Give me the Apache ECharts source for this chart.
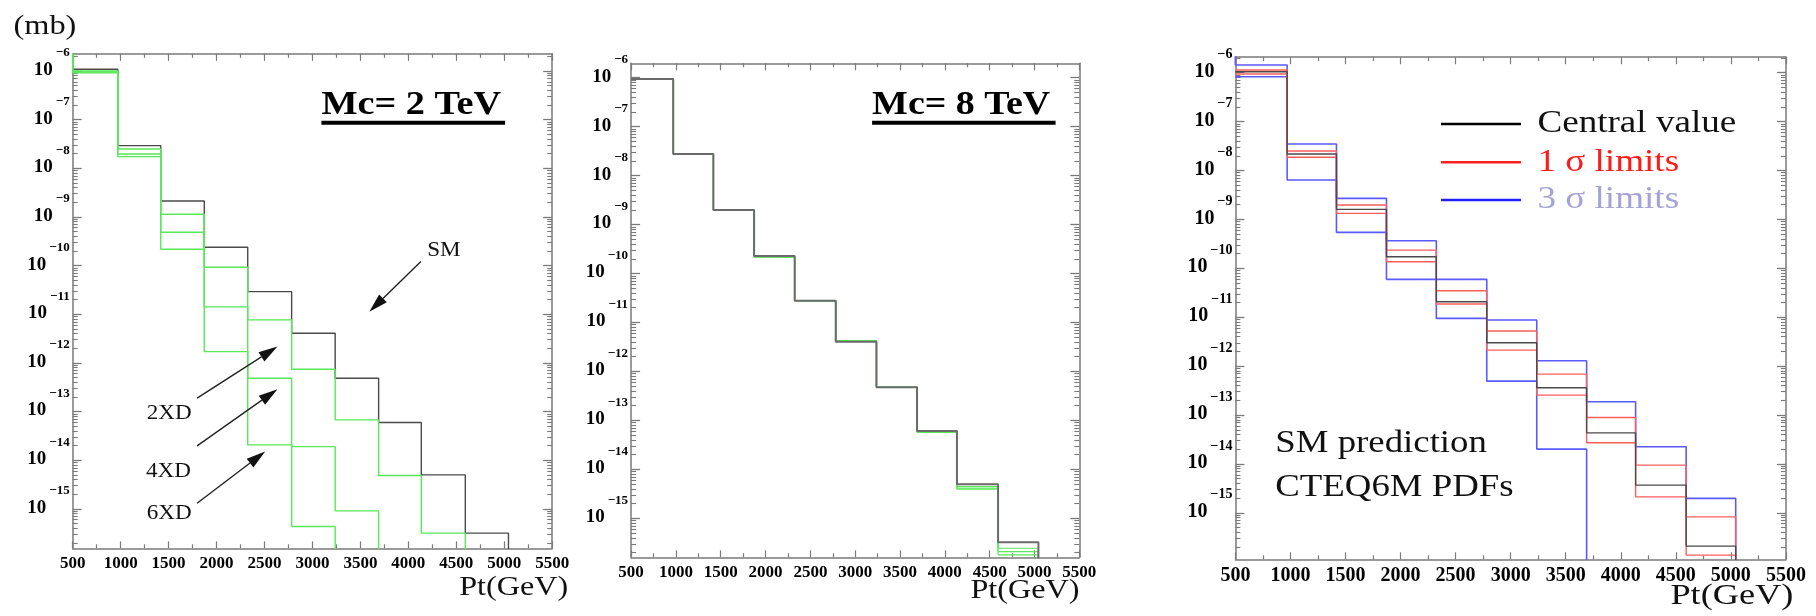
<!DOCTYPE html>
<html><head><meta charset="utf-8">
<script src="https://cdn.jsdelivr.net/npm/echarts@6/dist/echarts.min.js"></script>
<style>html,body{margin:0;padding:0;background:#fff}#c{width:1816px;height:616px}</style>
</head><body><div id="c"></div>
<script>
// ---------------- DATA ----------------
// Pt bin edges (GeV), shared by the three panels
const binEdges = [500, 970, 1418, 1872, 2325, 2783, 3237, 3690, 4135, 4594, 5044];
// cross sections given as log10(sigma / mb); null = below the plotted range
// Panel 1 : Mc = 2 TeV
const p1SM  = [-5.965, -7.535, -8.671, -9.622, -10.535, -11.389, -12.314, -13.226, -14.301, -15.499];
const p1XD2 = [-6.000, -7.603, -8.944, -10.033, -11.116, -12.129, -13.171, -14.315, -15.499, null];
const p1XD4 = [-6.020, -7.705, -9.314, -10.849, -12.314, -13.720, -15.040, null, null, null];
const p1XD6 = [-6.040, -7.761, -9.663, -11.767, -13.684, -15.363, null, null, null, null];
// Panel 2 : Mc = 8 TeV
const p2SM  = [-6.027, -7.558, -8.702, -9.642, -10.555, -11.392, -12.323, -13.216, -14.305, -15.489];
const p2XD2 = [-6.027, -7.558, -8.702, -9.660, -10.555, -11.378, -12.323, -13.240, -14.354, -15.612];
const p2XD4 = [-6.027, -7.558, -8.702, -9.660, -10.555, -11.378, -12.323, -13.240, -14.386, -15.680];
const p2XD6 = [-6.027, -7.558, -8.702, -9.660, -10.555, -11.378, -12.323, -13.240, -14.407, -15.748];
// Panel 3 : SM prediction, CTEQ6M PDFs
const p3Central = [-5.980, -7.662, -8.794, -9.764, -10.684, -11.523, -12.443, -13.364, -14.433, -15.681];
const p3Sig1Up  = [-5.945, -7.600, -8.706, -9.627, -10.459, -11.283, -12.163, -13.049, -14.024, -15.082];
const p3Sig1Dn  = [-6.027, -7.730, -8.876, -9.866, -10.731, -11.672, -12.592, -13.568, -14.673, -15.865];
const p3Sig3Up  = [-5.843, -7.458, -8.569, -9.436, -10.226, -11.058, -11.891, -12.729, -13.650, -14.705];
const p3Sig3Dn  = [-6.082, -8.195, -9.264, -10.226, -11.024, -12.306, -13.697, null, null, null];
// axis ticks
const xTickLabels = [500, 1000, 1500, 2000, 2500, 3000, 3500, 4000, 4500, 5000, 5500];
const yDecades = [-15, -14, -13, -12, -11, -10, -9, -8, -7, -6];
// panel 1 annotations (data coordinates: Pt, log10 sigma)
const annotArrows = [
  {from: [4131, -9.918],  to: [3593, -10.946]},
  {from: [1797, -12.725], to: [2635, -11.665]},
  {from: [1797, -13.705], to: [2635, -12.540]},
  {from: [1797, -14.883], to: [2507, -13.822]}
];
const annotTexts = [
  {text: 'SM',  at: [4371, -9.68]},
  {text: '2XD', at: [1507, -13.033]},
  {text: '4XD', at: [1498, -14.233]},
  {text: '6XD', at: [1507, -15.088]}
];

// ---------------- LAYOUT ----------------
const SERIF = '"Liberation Serif","Times New Roman",serif';
const GRAY = '#7a7a7a';
const BLACK = '#4a4a4a', GREEN = '#58e858', RED = '#ff5c5c', BLUE = '#5a5aff';
const panels = [
  {left: 72.7,   top: 53.8, width: 479.5, height: 494.5, y: [-15.81, -5.647], xf: 17, bf: 19, sf: 13},
  {left: 631.1,  top: 63.3, width: 448.2, height: 494.0, y: [-15.797, -5.706], xf: 17, bf: 19, sf: 13},
  {left: 1235.4, top: 57.2, width: 550.5, height: 502.1, y: [-15.95, -5.683], xf: 20, bf: 20, sf: 14}
];

function minorPos(r) {
  const out = [];
  for (let n = -17; n <= -5; n++) for (let k = 2; k <= 9; k++) {
    const v = n + Math.log10(k);
    if (v > r[0] && v < r[1]) out.push(v);
  }
  return out;
}

const grid = [], xAxis = [], yAxis = [];
panels.forEach((p, gi) => {
  grid.push({left: p.left, top: p.top, width: p.width, height: p.height, show: false, containLabel: false});
  const xBase = {
    gridIndex: gi, type: 'value', min: 500, max: 5500, interval: 500,
    axisLine: {show: true, onZero: false, lineStyle: {color: GRAY, width: 1.5}},
    axisTick: {show: true, inside: true, length: 7, lineStyle: {color: GRAY, width: 1.2}},
    minorTick: {show: true, splitNumber: 2, length: 4, lineStyle: {color: GRAY, width: 1.2}},
    splitLine: {show: false}, minorSplitLine: {show: false}
  };
  xAxis.push(Object.assign({}, xBase, {position: 'bottom',
    axisLabel: {show: true, fontFamily: SERIF, fontWeight: 'bold', fontSize: p.xf, color: '#000', margin: 7,
      formatter: v => (xTickLabels.indexOf(v) >= 0 ? String(v) : '')}}));
  xAxis.push(Object.assign({}, xBase, {position: 'top', axisLabel: {show: false}}));
  const minors = minorPos(p.y);
  const yBase = {gridIndex: gi, type: 'value', min: p.y[0], max: p.y[1], splitLine: {show: false}};
  const lab = {
    show: true, customValues: yDecades, margin: 3, padding: [0, 0, 18, 0],
    formatter: v => '{b|10}{s|\u2212' + Math.round(-v) + '}',
    rich: {
      b: {fontFamily: SERIF, fontWeight: 'bold', fontSize: p.bf, color: '#000', height: 18, lineHeight: 34, verticalAlign: 'bottom'},
      s: {fontFamily: SERIF, fontWeight: 'bold', fontSize: p.sf, color: '#000', height: 16, lineHeight: 34, verticalAlign: 'top', padding: [0, 0, 0, 3]}
    }
  };
  ['left', 'right'].forEach(pos => {
    yAxis.push(Object.assign({}, yBase, {position: pos,
      axisLine: {show: true, onZero: false, lineStyle: {color: GRAY, width: 1.5}},
      axisTick: {show: true, inside: true, length: 9, customValues: yDecades, lineStyle: {color: GRAY, width: 1.3}},
      axisLabel: pos === 'left' ? lab : {show: false}}));
    yAxis.push(Object.assign({}, yBase, {position: pos,
      axisLine: {show: false, onZero: false},
      axisTick: {show: true, inside: true, length: 5, customValues: minors, lineStyle: {color: GRAY, width: 1.1}},
      axisLabel: {show: false}}));
  });
});

function stepData(vals, p, startAbove) {
  const below = p.y[0] - 2, above = p.y[1] + 2;
  const pts = [];
  if (startAbove) pts.push([binEdges[0], above]);
  vals.forEach((v, i) => {
    const y = (v === null) ? below : v;
    pts.push([binEdges[i], y]);
    pts.push([binEdges[i + 1], y]);
  });
  pts.push([binEdges[vals.length], below]);
  return pts;
}
function hist(name, gi, vals, color, width, z, startAbove) {
  return {
    name: name, type: 'line', xAxisIndex: gi * 2, yAxisIndex: gi * 4,
    data: stepData(vals, panels[gi], startAbove), showSymbol: false, symbol: 'none',
    lineStyle: {color: color, width: width}, clip: true, animation: false, silent: true, z: z
  };
}

const series = [
  hist('SM', 0, p1SM, BLACK, 1.4, 2, false),
  hist('2XD', 0, p1XD2, GREEN, 1.4, 3, true),
  hist('4XD', 0, p1XD4, GREEN, 1.4, 3, true),
  hist('6XD', 0, p1XD6, GREEN, 1.4, 3, true),
  hist('2XD (8 TeV)', 1, p2XD2, GREEN, 1.2, 2, false),
  hist('4XD (8 TeV)', 1, p2XD4, GREEN, 1.2, 2, false),
  hist('6XD (8 TeV)', 1, p2XD6, GREEN, 1.2, 2, false),
  hist('SM (8 TeV)', 1, p2SM, '#6a6a6a', 2.0, 5, false),
  hist('3 \u03c3 limits', 2, p3Sig3Up, BLUE, 1.6, 2, true),
  hist('3 \u03c3 limits', 2, p3Sig3Dn, BLUE, 1.6, 2, false),
  hist('1 \u03c3 limits', 2, p3Sig1Up, RED, 1.4, 3, false),
  hist('1 \u03c3 limits', 2, p3Sig1Dn, RED, 1.4, 3, false),
  hist('Central value', 2, p3Central, BLACK, 1.4, 4, false)
];

const chart = echarts.init(document.getElementById('c'), null, {renderer: 'canvas'});
chart.setOption({
  backgroundColor: '#ffffff', animation: false,
  grid: grid, xAxis: xAxis, yAxis: yAxis, series: series
});

// ---------------- TEXT / ANNOTATIONS ----------------
function txt(s, x, y, size, opts) {
  opts = opts || {};
  return {type: 'text', x: x, y: y, scaleX: opts.sx || 1, z: 100, silent: true,
    style: {text: s, fontFamily: SERIF, fontSize: size, fontWeight: opts.bold ? 'bold' : 'normal',
      fill: opts.color || '#111', textAlign: opts.align || 'left', textVerticalAlign: 'middle'}};
}
const g = [];
g.push(txt('(mb)', 13.4, 26.5, 27, {sx: 1.2}));
g.push(txt('Mc= 2 TeV', 321.4, 105.2, 34, {bold: true, sx: 1.125, color: '#000'}));
g.push({type: 'rect', shape: {x: 321.4, y: 120.7, width: 183.7, height: 4}, style: {fill: '#000'}, z: 100, silent: true});
g.push(txt('Mc= 8 TeV', 872.1, 105.2, 34, {bold: true, sx: 1.115, color: '#000'}));
g.push({type: 'rect', shape: {x: 872.1, y: 120.7, width: 183.5, height: 4}, style: {fill: '#000'}, z: 100, silent: true});
g.push(txt('Pt(GeV)', 459.2, 587.5, 28, {sx: 1.15}));
g.push(txt('Pt(GeV)', 970.4, 590.5, 27.5, {sx: 1.17}));
g.push(txt('Pt(GeV)', 1670.4, 596.5, 29, {sx: 1.25}));
// legend of panel 3
const legendItems = [
  {label: 'Central value', line: '#000000', color: '#111111', y: 124},
  {label: '1 \u03c3 limits', line: '#ff2020', color: '#ff1a1a', y: 162.3},
  {label: '3 \u03c3 limits', line: '#2020ff', color: '#a3a3d6', y: 200}
];
legendItems.forEach(it => {
  g.push({type: 'line', shape: {x1: 1441, y1: it.y, x2: 1521, y2: it.y}, style: {stroke: it.line, lineWidth: 2.4}, z: 100, silent: true});
  g.push(txt(it.label, 1537.4, it.y, 32, {sx: 1.16, color: it.color}));
});
g.push(txt('SM prediction', 1275.3, 444, 32, {sx: 1.15}));
g.push(txt('CTEQ6M PDFs', 1275.3, 488, 32, {sx: 1.15}));

annotTexts.forEach(a => {
  const p = chart.convertToPixel({gridIndex: 0}, a.at);
  g.push(txt(a.text, p[0], p[1], 22, {sx: 1.05, align: 'center'}));
});
annotArrows.forEach(a => {
  const p0 = chart.convertToPixel({gridIndex: 0}, a.from);
  const p1 = chart.convertToPixel({gridIndex: 0}, a.to);
  const dx = p1[0] - p0[0], dy = p1[1] - p0[1], L = Math.hypot(dx, dy);
  const ux = dx / L, uy = dy / L, hl = 19, hw = 5.5;
  const bx = p1[0] - ux * hl, by = p1[1] - uy * hl;
  g.push({type: 'line', shape: {x1: p0[0], y1: p0[1], x2: bx, y2: by}, style: {stroke: '#222', lineWidth: 1.4}, z: 100, silent: true});
  g.push({type: 'polygon', shape: {points: [[p1[0], p1[1]], [bx - uy * hw, by + ux * hw], [bx + uy * hw, by - ux * hw]]},
    style: {fill: '#111'}, z: 100, silent: true});
});
chart.setOption({graphic: g});
</script>
</body></html>
